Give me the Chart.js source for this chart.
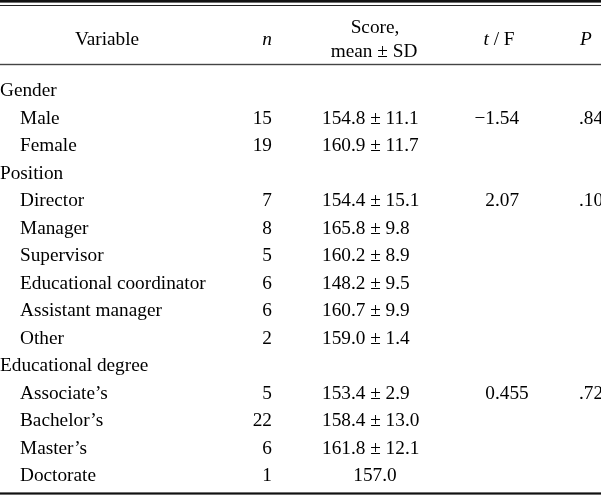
<!DOCTYPE html>
<html>
<head>
<meta charset="utf-8">
<script src="https://cdn.jsdelivr.net/npm/chart.js@4.4.1/dist/chart.umd.min.js"></script>
<style>
  html, body { margin: 0; padding: 0; background: #fff; }
  #wrap { width: 601px; height: 496px; }
</style>
</head>
<body>
<div id="wrap"><canvas id="table"></canvas></div>
<script>
// table content, one entry per body row
const rowLabels = [
  'Gender', 'Male', 'Female',
  'Position', 'Director', 'Manager', 'Supervisor', 'Educational coordinator', 'Assistant manager', 'Other',
  'Educational degree', 'Associate\u2019s', 'Bachelor\u2019s', 'Master\u2019s', 'Doctorate'
];
const groupRows = [0, 3, 10];
const nValues = ['', '15', '19', '', '7', '8', '5', '6', '6', '2', '', '5', '22', '6', '1'];
const scoreValues = [
  '', '154.8 \u00b1 11.1', '160.9 \u00b1 11.7',
  '', '154.4 \u00b1 15.1', '165.8 \u00b1 9.8', '160.2 \u00b1 8.9', '148.2 \u00b1 9.5', '160.7 \u00b1 9.9', '159.0 \u00b1 1.4',
  '', '153.4 \u00b1 2.9', '158.4 \u00b1 13.0', '161.8 \u00b1 12.1', '157.0'
];
const tfValues = ['', '\u22121.54', '', '', '2.07', '', '', '', '', '', '', '0.455', '', '', ''];
const pValues = ['', '.84', '', '', '.10', '', '', '', '', '', '', '.72', '', '', ''];

// layout (x in pixels on a 0..601 linear scale, y in row units)
const ROW_H = 27.5;
const FIRST_ROW_PX = 91;
const cols = { label: 0, indent: 20, nRight: 272, scoreLeft: 322, scoreMid: 375, tfDot: 495, pLeft: 579 };
const FONT = '19.3px "Liberation Serif", "Times New Roman", serif';
const FONT_I = 'italic ' + FONT;
const INK = '#000';

const yMin = -FIRST_ROW_PX / ROW_H;
const yMax = yMin + 496 / ROW_H;
const pxToRow = px => yMin + px / ROW_H;

const tablePlugin = {
  id: 'tableDraw',
  afterDraw(chart) {
    const ctx = chart.ctx;
    const x = chart.scales.x, y = chart.scales.y;
    ctx.save();
    ctx.fillStyle = INK;
    ctx.textBaseline = 'middle';

    const rule = (row, w, color) => {
      const py = y.getPixelForValue(row);
      ctx.fillStyle = color;
      ctx.fillRect(x.left, py - w / 2, x.right - x.left, w);
    };
    rule(pxToRow(1.3), 2.6, '#111');
    rule(pxToRow(5.5), 1, '#222');
    rule(pxToRow(64.5), 1.4, '#444');
    rule(pxToRow(493.5), 2.2, '#111');
    ctx.fillStyle = INK;

    // header
    const hy = y.getPixelForValue(pxToRow(40));
    ctx.font = FONT;
    ctx.textAlign = 'center';
    ctx.fillText('Variable', x.getPixelForValue(107), hy);
    ctx.fillText('Score,', x.getPixelForValue(375), y.getPixelForValue(pxToRow(28)));
    ctx.fillText('mean \u00b1 SD', x.getPixelForValue(374), y.getPixelForValue(pxToRow(52)));
    ctx.font = FONT_I;
    ctx.fillText('n', x.getPixelForValue(267), hy);
    ctx.fillText('P', x.getPixelForValue(586), hy);
    // "t / F": italic t, upright rest
    const tw = ctx.measureText('t').width;
    ctx.font = FONT;
    const rw = ctx.measureText(' / F').width;
    const tfStart = x.getPixelForValue(499) - (tw + rw) / 2;
    ctx.textAlign = 'left';
    ctx.fillText(' / F', tfStart + tw, hy);
    ctx.font = FONT_I;
    ctx.fillText('t', tfStart, hy);

    // body
    ctx.font = FONT;
    rowLabels.forEach((label, i) => {
      const py = y.getPixelForValue(i);
      const isGroup = groupRows.includes(i);
      ctx.textAlign = 'left';
      ctx.fillText(label, x.getPixelForValue(isGroup ? cols.label : cols.indent), py);
      if (nValues[i]) {
        ctx.textAlign = 'right';
        ctx.fillText(nValues[i], x.getPixelForValue(cols.nRight), py);
      }
      if (scoreValues[i]) {
        if (scoreValues[i].includes('\u00b1')) {
          ctx.textAlign = 'left';
          ctx.fillText(scoreValues[i], x.getPixelForValue(cols.scoreLeft), py);
        } else {
          ctx.textAlign = 'center';
          ctx.fillText(scoreValues[i], x.getPixelForValue(cols.scoreMid), py);
        }
      }
      if (tfValues[i]) {
        const dot = tfValues[i].indexOf('.');
        ctx.textAlign = 'right';
        ctx.fillText(tfValues[i].slice(0, dot), x.getPixelForValue(cols.tfDot), py);
        ctx.textAlign = 'left';
        ctx.fillText(tfValues[i].slice(dot), x.getPixelForValue(cols.tfDot), py);
      }
      if (pValues[i]) {
        ctx.textAlign = 'left';
        ctx.fillText(pValues[i], x.getPixelForValue(cols.pLeft), py);
      }
    });
    ctx.restore();
  }
};

new Chart(document.getElementById('table'), {
  type: 'scatter',
  data: { datasets: [{ data: rowLabels.map((_, i) => ({ x: 0, y: i })), pointRadius: 0 }] },
  options: {
    responsive: true,
    maintainAspectRatio: false,
    animation: false,
    layout: { padding: 0 },
    plugins: { legend: { display: false }, tooltip: { enabled: false } },
    scales: {
      x: { type: 'linear', min: 0, max: 601, display: false },
      y: { type: 'linear', min: yMin, max: yMax, reverse: true, display: false }
    }
  },
  plugins: [tablePlugin]
});
</script>
</body>
</html>
